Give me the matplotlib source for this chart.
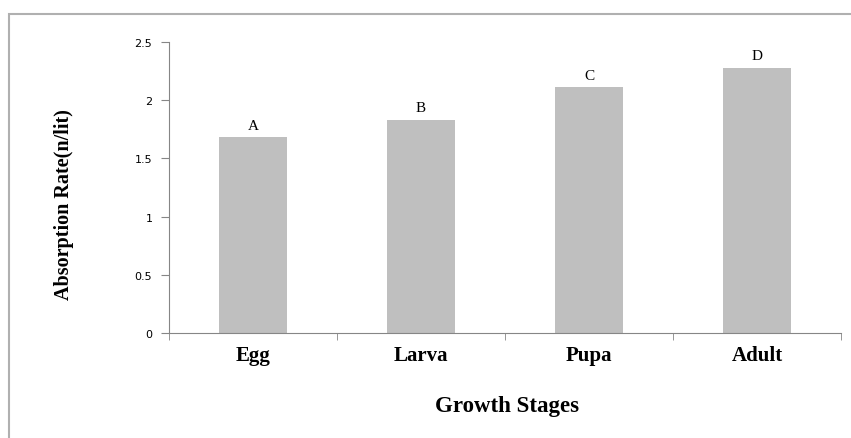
import matplotlib.pyplot as plt
from matplotlib.patches import Rectangle
import numpy as np

stages = ["Egg", "Larva", "Pupa", "Adult"]
rates = [1.68, 1.83, 2.11, 2.28]
letters = ["A", "B", "C", "D"]
yticks = [0, 0.5, 1, 1.5, 2, 2.5]
ytick_labels = ["0", "0.5", "1", "1.5", "2", "2.5"]

axis_gray = "#868686"
bar_gray = "#bfbfbf"

fig = plt.figure(figsize=(8.51, 4.39), dpi=100)
ax = fig.add_axes([169/851, 1 - 334/439, 672/851, 291/439])

# outer chart border (only top and left visible in crop)
fig.patches.append(Rectangle((9/851, -0.5), 2.0, 0.5 + (439-15)/439, transform=fig.transFigure,
                             fill=False, edgecolor="#b0b0b0", linewidth=1.5))

x = np.arange(len(stages))
ax.bar(x, rates, width=0.4, color=bar_gray, zorder=2)

for xi, r, lab in zip(x, rates, letters):
    ax.text(xi, r + 0.05, lab, ha="center", va="bottom",
            family="Liberation Serif", fontsize=11)

ax.set_xlim(-0.5, 3.5)
ax.set_ylim(0, 2.5)
ax.set_yticks(yticks)
ax.set_yticklabels(ytick_labels, fontsize=8, family="DejaVu Sans")
ax.set_xticks(x)
ax.set_xticklabels(stages, family="Liberation Serif", fontweight="bold", fontsize=15)
ax.set_xticks(np.arange(-0.5, 4, 1), minor=True)
ax.tick_params(axis="x", which="major", length=0, pad=9)
ax.tick_params(axis="x", which="minor", length=5, color=axis_gray)
ax.tick_params(axis="y", length=6, color=axis_gray, pad=6)

for s in ["top", "right"]:
    ax.spines[s].set_visible(False)
for s in ["left", "bottom"]:
    ax.spines[s].set_color(axis_gray)

ax.set_ylabel("Absorption Rate(n/lit)", family="Liberation Serif", fontweight="bold",
              fontsize=14.5)
ax.yaxis.set_label_coords(-95/672, 0.445)
ax.set_xlabel("Growth Stages", family="Liberation Serif", fontweight="bold", fontsize=16.5)
ax.xaxis.set_label_coords(0.503, -(396-334)/291)

fig.savefig("out.png", dpi=100)
